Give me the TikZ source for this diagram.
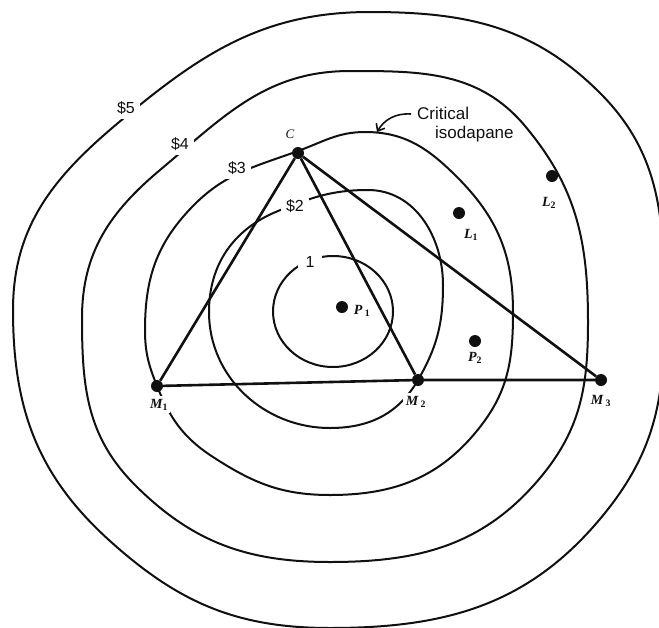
\documentclass[tikz,border=0pt]{standalone}
\usepackage{fontspec}
\setmainfont{Liberation Serif}
\setsansfont{Liberation Sans}
\usepackage{tikz}
\usetikzlibrary{arrows.meta,positioning}
\definecolor{tinta}{HTML}{101010}
\tikzset{
  curva/.style={draw=tinta,line width=2pt},
  lado/.style={draw=tinta,line width=2.6pt},
  punto/.style={circle,fill=tinta,inner sep=0pt,minimum size=12pt},
  etiqueta/.style={inner sep=2.5pt,fill=white,font=\fontsize{14}{16}\selectfont\bfseries\itshape,text=tinta},
  cota/.style={inner sep=5pt,fill=white,font=\sffamily\fontsize{16}{18}\selectfont,text=tinta},
  rotulo/.style={inner sep=0pt,align=left,font=\sffamily\fontsize{17}{19}\selectfont,text=tinta},
  flecha/.style={draw=tinta,line width=1.6pt,-{Straight Barb[length=6pt,width=10pt]}},
}

\begin{document}
\begin{tikzpicture}[x=1pt,y=-1pt]
\useasboundingbox (0,0) rectangle (659,627);
% isodapanas
\begin{scope}
\clip (0,0) rectangle (659,627);
\draw[curva] (370,12) to[out=0,in=135] (600,93) to[out=-45,in=90] (664,330)
  to[out=-90,in=50] (600,519) to[out=230,in=0] (330,628) to[out=180,in=-42] (110,541)
  to[out=138,in=-90] (13,310) to[out=90,in=220] (118,123) to[out=40,in=180] cycle;
\end{scope}
\draw[curva] (350,71) to[out=0,in=130] (525,126) to[out=-50,in=90] (588,322)
  to[out=-90,in=50] (540,478) to[out=230,in=0] (330,562) to[out=180,in=-45] (135,485)
  to[out=135,in=-90] (82,318) to[out=90,in=220] (160,170) to[out=40,in=180] cycle;
\draw[curva] (365,132) to[out=0,in=135] (457,177) to[out=-45,in=90] (513,312)
  to[out=-90,in=52] (480,427) to[out=232,in=0] (330,495) to[out=180,in=-33] (213,457)
  to[out=147,in=-68] (157,386) to[out=112,in=-90] (145,330) to[out=90,in=226] (192,207)
  to[out=46,in=200] (298,151) to[out=20,in=180] cycle;
\draw[curva] (368,190) to[out=0,in=90] (443,285) to[out=-90,in=60] (418,380)
  to[out=240,in=0] (330,428) to[out=180,in=-90] (209,312) to[out=90,in=202] (278,211)
  to[out=22,in=180] cycle;
\draw[curva] (333,311.5) ellipse[x radius=60,y radius=55.5];
% costes
\node[cota] (c5) at (126,108) {\$5};
\node[cota] (c4) at (180,144) {\$4};
\node[cota] (c3) at (237,168) {\$3};
\node[cota] (c2) at (295,206) {\$2};
\node[cota, inner xsep=8pt] (c1) at (310,262) {1};
% puntos
\node[punto] (nC) at (298,153) {};
\node[punto] (nM1) at (157,386) {};
\node[punto] (nM2) at (418,380) {};
\node[punto] (nM3) at (601,380) {};
\node[punto] (nP1) at (342,307) {};
\node[punto] (nP2) at (475,341) {};
\node[punto] (nL1) at (459,213) {};
\node[punto] (nL2) at (552,176) {};
% triangulo
\draw[lado] (nC) -- (nM1);
\draw[lado] (nC) -- (nM2);
\draw[lado] (nC) -- (nM3);
\draw[lado] (nM1) -- (nM2) -- (nM3);
% etiquetas
\node[etiqueta, above=5pt of nC, xshift=-8pt, font=\fontsize{13}{15}\selectfont\itshape, fill=none] (tC) {C};
\node[etiqueta, below=4pt of nM1, xshift=2pt] (tM1) {M\textsubscript{\upshape 1}};
\node[etiqueta, below=7pt of nM2, xshift=-2pt] (tM2) {M\,\textsubscript{\upshape 2}};
\node[etiqueta, below=6pt of nM3] (tM3) {M\,\textsubscript{\upshape 3}};
\node[etiqueta, right=3pt of nP1, yshift=-4pt, fill=none] (tP1) {P\,\textsubscript{\upshape 1}};
\node[etiqueta, below=2pt of nP2, fill=none] (tP2) {P\textsubscript{\upshape 2}};
\node[etiqueta, below=7pt of nL1, xshift=12pt, fill=none] (tL1) {L\textsubscript{\upshape 1}};
\node[etiqueta, below=12pt of nL2, xshift=-3pt, fill=none] (tL2) {L\textsubscript{\upshape 2}};
% isodapana critica
\node[rotulo, anchor=north west] (tCrit) at (417,107) {Critical\\\hspace*{18pt}isodapane};
\coordinate (aIni) at (411,114);
\coordinate (aFin) at (377,132);
\draw[flecha] (aIni) .. controls (395,113) and (384,120) .. (aFin);
\end{tikzpicture}
\end{document}
